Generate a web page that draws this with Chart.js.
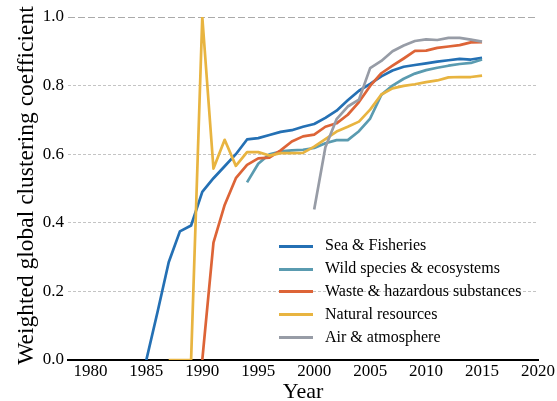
<!DOCTYPE html>
<html>
<head>
<meta charset="utf-8">
<script src="https://cdn.jsdelivr.net/npm/chart.js@4"></script>
<style>
body { margin: 0; background: #fff; }
</style>
</head>
<body>
<canvas id="clusterChart" width="557" height="401"></canvas>
<script>
const years = [1985, 1986, 1987, 1988, 1989, 1990, 1991, 1992, 1993, 1994, 1995, 1996, 1997, 1998, 1999, 2000,
    2001, 2002, 2003, 2004, 2005, 2006, 2007, 2008, 2009, 2010, 2011, 2012, 2013, 2014, 2015]
const seriesNames = ["Sea & Fisheries", "Wild species & ecosystems", "Waste & hazardous substances", "Natural resources", "Air & atmosphere"]
const colors = ["#2470b4", "#5a9bb0", "#dd6437", "#e8b440", "#979ca6"]

const seaFisheries = [0, 0.14, 0.285, 0.375, 0.392, 0.49, 0.53, 0.565, 0.60, 0.643, 0.647, 0.656, 0.665, 0.670, 0.680, 0.688,
    0.706, 0.727, 0.757, 0.785, 0.805, 0.827, 0.844, 0.855, 0.860, 0.865, 0.870, 0.874, 0.878, 0.876, 0.881]
const wildSpecies = [null, null, null, null, null, null, null, null, null, 0.518, 0.572, 0.600, 0.608, 0.611, 0.613, 0.618,
    0.632, 0.641, 0.641, 0.667, 0.704, 0.773, 0.800, 0.820, 0.835, 0.845, 0.852, 0.858, 0.863, 0.866, 0.876]
const wasteHazardous = [null, null, null, null, null, 0, 0.342, 0.452, 0.530, 0.569, 0.588, 0.590, 0.611, 0.637, 0.652, 0.657,
    0.680, 0.690, 0.715, 0.752, 0.799, 0.836, 0.858, 0.879, 0.901, 0.902, 0.910, 0.914, 0.918, 0.926, 0.927]
const naturalResources = [null, null, 0, 0, 0, 1.0, 0.558, 0.642, 0.566, 0.606, 0.606, 0.596, 0.603, 0.603, 0.604, 0.622,
    0.644, 0.666, 0.680, 0.695, 0.730, 0.774, 0.792, 0.799, 0.804, 0.810, 0.815, 0.824, 0.825, 0.825, 0.829]
const airAtmosphere = [null, null, null, null, null, null, null, null, null, null, null, null, null, null, null, 0.439,
    0.620, 0.702, 0.739, 0.759, 0.851, 0.872, 0.900, 0.917, 0.930, 0.935, 0.933, 0.939, 0.939, 0.934, 0.928]

const xTicks = [1980, 1985, 1990, 1995, 2000, 2005, 2010, 2015, 2020]
const yTicks = [0, 0.2, 0.4, 0.6, 0.8, 1.0]

const allSeries = [seaFisheries, wildSpecies, wasteHazardous, naturalResources, airAtmosphere]

Chart.defaults.font.family = "'Liberation Serif', 'Times New Roman', serif"
Chart.defaults.color = "#000"

// short coloured bar used as legend key
function lineMark(color) {
    const c = document.createElement("canvas")
    c.width = 34
    c.height = 3
    const g = c.getContext("2d")
    g.fillStyle = color
    g.fillRect(0, 0, 34, 3)
    return c
}

// put the legend box inside the plot, lower right
const legendSpot = {
    id: "legendSpot",
    afterLayout(chart) {
        const lg = chart.legend
        lg.left = 267.2
        lg.top = 231.4
        lg.width = 280
        lg.height = 135
        lg.right = lg.left + lg.width
        lg.bottom = lg.top + lg.height
    }
}

let datasets = []
seriesNames.forEach((name, i) => {
    datasets.push({
        label: name,
        data: years.map((yr, k) => ({ x: yr, y: allSeries[i][k] })),
        borderColor: colors[i],
        backgroundColor: colors[i],
        borderWidth: 2.7,
        pointRadius: 0,
        borderJoinStyle: "round",
        fill: false,
        tension: 0,
        order: -i
    })
})

const ctx = document.getElementById("clusterChart").getContext("2d")
const myChart = new Chart(ctx, {
    type: "line",
    data: { datasets: datasets },
    plugins: [legendSpot],
    options: {
        responsive: false,
        animation: false,
        layout: { padding: { top: 17, right: 19, bottom: 0, left: 0 } },
        plugins: {
            tooltip: { enabled: false },
            legend: {
                position: "chartArea",
                align: "start",
                labels: {
                    usePointStyle: true,
                    pointStyleWidth: 43,
                    padding: 6.8,
                    font: { size: 16 },
                    sort: (a, b) => a.datasetIndex - b.datasetIndex,
                    generateLabels(chart) {
                        return Chart.defaults.plugins.legend.labels.generateLabels(chart).map((item) => {
                            item.pointStyle = lineMark(colors[item.datasetIndex])
                            return item
                        })
                    }
                }
            }
        },
        scales: {
            x: {
                type: "linear",
                min: 1978,
                max: 2020,
                afterBuildTicks(scale) { scale.ticks = xTicks.map((v) => ({ value: v })) },
                afterFit(scale) { scale.height = 41 },
                grid: { display: true, drawOnChartArea: false, drawTicks: false },
                border: { display: true, color: "#000", width: 2 },
                ticks: { padding: 1, font: { size: 17 }, maxRotation: 0, autoSkip: false, callback: (v) => String(v) },
                title: { display: true, text: "Year", font: { size: 22, lineHeight: 0.8 }, padding: 0 }
            },
            y: {
                min: 0,
                max: 1,
                afterBuildTicks(scale) { scale.ticks = yTicks.map((v) => ({ value: v })) },
                afterFit(scale) { scale.width = 68 },
                grid: {
                    drawTicks: false,
                    lineWidth: 1,
                    color: (c) => {
                        if (!c.tick || c.tick.value === 0) return "rgba(0,0,0,0)"
                        return c.tick.value === 1 ? "#aaaaaa" : "#c4c4c4"
                    }
                },
                border: {
                    display: false,
                    dash: (c) => (c.tick && c.tick.value === 1 ? [7, 3] : [3, 2])
                },
                ticks: { padding: 4, font: { size: 17 }, callback: (v) => v.toFixed(1) },
                title: {
                    display: true,
                    text: " Weighted global clustering coefficient",
                    font: { size: 23.5 },
                    padding: { top: 13, bottom: 0 }
                }
            }
        }
    }
})
</script>
</body>
</html>
